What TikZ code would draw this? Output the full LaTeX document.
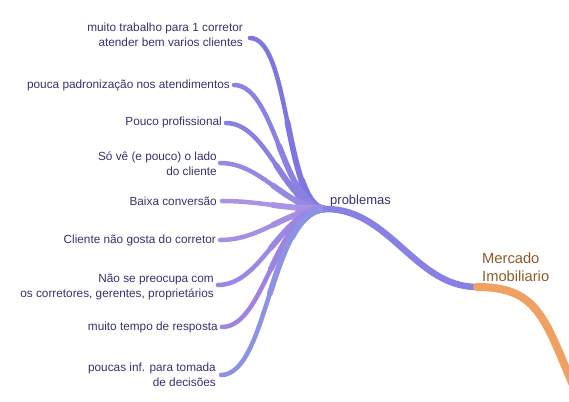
\documentclass[tikz,border=0pt]{standalone}
\usepackage{fontspec}
\setmainfont{Liberation Sans}
\usetikzlibrary{calc}
\definecolor{txt}{HTML}{3B2F6B}
\definecolor{brn}{HTML}{8B5A2B}
\definecolor{orn}{HTML}{F0A060}
\definecolor{mainp}{HTML}{8880E4}
\definecolor{bA}{HTML}{7E76E0}
\definecolor{bB}{HTML}{8A82E2}
\definecolor{bC}{HTML}{8A80E0}
\definecolor{bD}{HTML}{9788E2}
\definecolor{bE}{HTML}{AA92E6}
\definecolor{bF}{HTML}{A48FE2}
\definecolor{bG}{HTML}{9C88E4}
\definecolor{bH}{HTML}{A083E0}
\definecolor{bI}{HTML}{8C92E4}
% tapered branch: colour, start, control 1, control 2, end
\newcommand{\mybranch}[5]{%
  \coordinate (p0) at #2; \coordinate (c1) at #3; \coordinate (c2) at #4; \coordinate (p3) at #5;
  \coordinate (m) at ($0.125*(p0)+0.375*(c1)+0.375*(c2)+0.125*(p3)$);
  \coordinate (q1) at ($0.25*(c1)+0.5*(c2)+0.25*(p3)$);
  \coordinate (q2) at ($0.5*(c2)+0.5*(p3)$);
  \coordinate (mm) at ($0.125*(m)+0.375*(q1)+0.375*(q2)+0.125*(p3)$);
  \coordinate (r1) at ($0.25*(q1)+0.5*(q2)+0.25*(p3)$);
  \coordinate (r2) at ($0.5*(q2)+0.5*(p3)$);
  \draw[line width=4.5pt, line cap=round, #1] (p0) .. controls (c1) and (c2) .. (p3);
  \draw[line width=5.8pt, line cap=round, #1] (m) .. controls (q1) and (q2) .. (p3);
  \draw[line width=7pt, line cap=round, #1] (mm) .. controls (r1) and (r2) .. (p3);
}
\begin{document}
\begin{tikzpicture}[x=1pt,y=-1pt,
  leaf/.style={anchor=east, align=right, text=txt, inner sep=0pt,
    font=\fontsize{11.8}{15}\selectfont}]
\useasboundingbox (0,0) rectangle (569,401);
\clip (0,0) rectangle (569,401);
\node[leaf] (l1) at (243,35) {muito trabalho para 1 corretor\\atender bem varios clientes};
\node[leaf] (l2) at (230,85) {pouca padronização nos atendimentos};
\node[leaf] (l3) at (222,122) {Pouco profissional};
\node[leaf] (l4) at (217,164) {Só vê (e pouco) o lado\\do cliente};
\node[leaf] (l5) at (217,201) {Baixa conversão};
\node[leaf] (l6) at (216,240) {Cliente não gosta do corretor};
\node[leaf] (l7) at (214,286.5) {Não se preocupa com\\os corretores, gerentes, proprietários};
\node[leaf] (l8) at (218,327) {muito tempo de resposta};
\node[leaf] (l9) at (216,375) {poucas inf. para tomada\\de decisões};
\node[anchor=west, inner sep=0pt, text=txt, font=\fontsize{13}{15}\selectfont] (prob) at (330,201) {problemas};
\node[anchor=west, align=left, inner sep=0pt, text=brn, font=\fontsize{14.7}{17.5}\selectfont] (merc) at (482,267) {Mercado\\Imobiliario};
\coordinate (oend) at (573,385);
% branches
\mybranch{bA}{($(l1.east)+(7,3)$)}{($(l1.east)+(47,3)$)}{($(prob.west)+(-45,4)$)}{($(prob.west)+(-6,8)$)}
\mybranch{bB}{($(l2.east)+(4,0)$)}{($(l2.east)+(45,0)$)}{($(prob.west)+(-47,5)$)}{($(prob.west)+(-6,8)$)}
\mybranch{bC}{($(l3.east)+(4,1)$)}{($(l3.east)+(46,1)$)}{($(prob.west)+(-45,6)$)}{($(prob.west)+(-6,8)$)}
\mybranch{bD}{($(l4.east)+(3,-1)$)}{($(l4.east)+(45,-1)$)}{($(prob.west)+(-45,7)$)}{($(prob.west)+(-6,8)$)}
\mybranch{bE}{($(l5.east)+(5,0)$)}{($(l5.east)+(43,0)$)}{($(prob.west)+(-45,8)$)}{($(prob.west)+(-6,8)$)}
\mybranch{bF}{($(l6.east)+(4,0)$)}{($(l6.east)+(46,0)$)}{($(prob.west)+(-45,9)$)}{($(prob.west)+(-6,8)$)}
\mybranch{bG}{($(l7.east)+(4,-1.5)$)}{($(l7.east)+(48,-1.5)$)}{($(prob.west)+(-50,10)$)}{($(prob.west)+(-6,8)$)}
\mybranch{bH}{($(l8.east)+(4,0)$)}{($(l8.east)+(47,0)$)}{($(prob.west)+(-55,11)$)}{($(prob.west)+(-6,8)$)}
\mybranch{bI}{($(l9.east)+(5,0)$)}{($(l9.east)+(52,0)$)}{($(prob.west)+(-60,12)$)}{($(prob.west)+(-6,8)$)}
% main
\draw[line width=6.5pt, line cap=round, mainp] ($(prob.west)+(-4,8)$) .. controls ($(prob.west)+(60,8)$) and ($(merc.west)+(-67,20)$) .. ($(merc.west)+(-5,20)$);
\draw[line width=8pt, line cap=round, orn] ($(merc.west)+(-5,20)$) .. controls ($(merc.west)+(55,20)$) and ($(merc.west)+(62,50)$) .. (oend);
\end{tikzpicture}
\end{document}
